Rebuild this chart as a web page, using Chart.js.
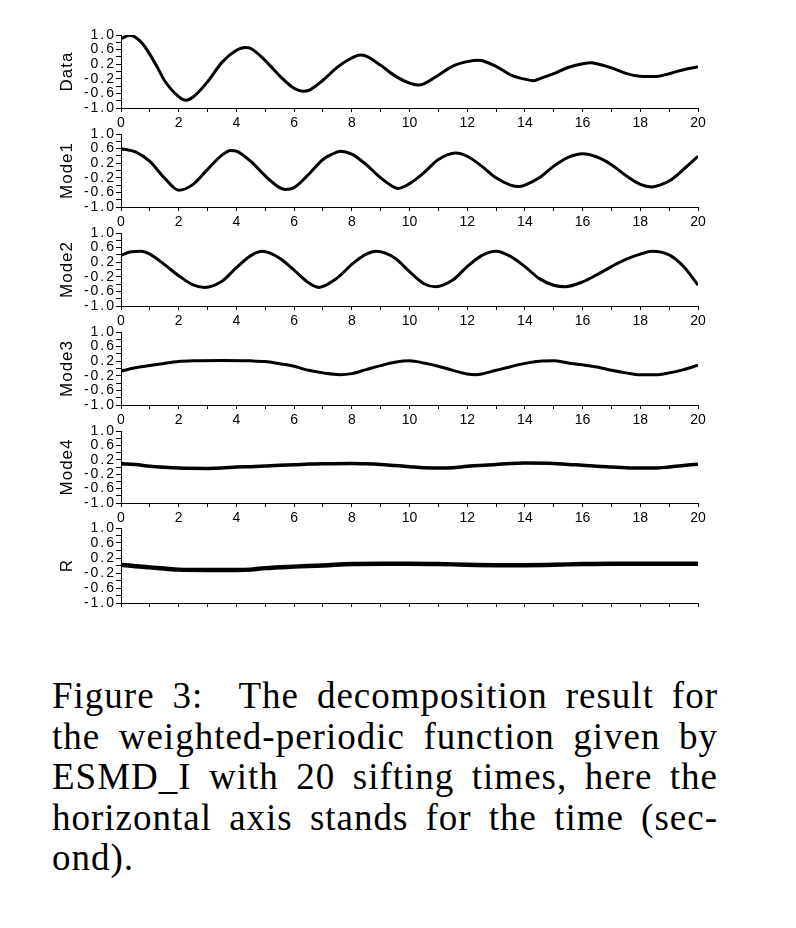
<!DOCTYPE html>
<html><head><meta charset="utf-8">
<script src="https://cdn.jsdelivr.net/npm/chart.js@4.4.1/dist/chart.umd.min.js"></script>
<style>
html,body{margin:0;padding:0;background:#fff;}
body{width:796px;height:928px;position:relative;overflow:hidden;}
.panel{position:absolute;left:0;}
#caption{position:absolute;left:52px;top:676px;width:666px;font-family:'Liberation Serif',serif;font-size:37px;line-height:40.5px;letter-spacing:1px;color:#000;}
#caption div{text-align:justify;text-align-last:justify;}
#caption div.last{text-align-last:left;}
</style></head>
<body>
<div id="caption">
<div>Figure 3:&nbsp; The decomposition result for</div>
<div>the weighted-periodic function given by</div>
<div>ESMD_I with 20 sifting times, here the</div>
<div>horizontal axis stands for the time (sec-</div>
<div class="last">ond).</div>
</div>
<script>
// ---- data ----
const panelNames = ['Data', 'Mode1', 'Mode2', 'Mode3', 'Mode4', 'R'];
const yTickValues = [-1.0, -0.6, -0.2, 0.2, 0.6, 1.0];
const xTickLabels = [0, 2, 4, 6, 8, 10, 12, 14, 16, 18, 20];

const dataT = [0,0.3,0.5,0.75,1,1.25,1.5,2,2.25,2.5,3,3.5,4,4.3,4.5,5,5.5,6,6.3,6.5,7,7.5,8,8.3,8.5,9,9.5,10,10.3,10.5,11,11.5,12,12.4,12.5,13,13.5,14,14.3,14.5,15,15.5,16,16.3,16.5,17,17.5,18,18.5,19,19.5,20];
const dataV = [0.90,0.99,0.94,0.76,0.47,0.13,-0.24,-0.69,-0.79,-0.70,-0.28,0.25,0.58,0.66,0.63,0.30,-0.12,-0.46,-0.54,-0.52,-0.24,0.12,0.37,0.45,0.42,0.17,-0.12,-0.32,-0.37,-0.34,-0.10,0.15,0.27,0.31,0.30,0.14,-0.09,-0.21,-0.25,-0.20,-0.06,0.11,0.21,0.24,0.21,0.10,-0.05,-0.13,-0.14,-0.06,0.05,0.13];

const mode1T = [0,0.5,1,1.5,2,2.5,3,3.5,3.8,4,4.5,5,5.5,5.7,6,6.5,7,7.5,7.6,8,8.5,9,9.5,9.6,10,10.5,11,11.6,12,12.5,13,13.5,13.8,14,14.5,15,15.5,16,16.5,17,17.5,18,18.4,18.5,19,19.5,20];
const mode1V = [0.60,0.51,0.25,-0.20,-0.54,-0.38,0.03,0.42,0.55,0.53,0.25,-0.15,-0.47,-0.52,-0.47,-0.11,0.30,0.51,0.53,0.45,0.16,-0.20,-0.47,-0.49,-0.36,-0.06,0.30,0.48,0.39,0.12,-0.20,-0.40,-0.44,-0.40,-0.20,0.12,0.36,0.46,0.37,0.16,-0.14,-0.38,-0.45,-0.44,-0.29,0.03,0.39];

const mode2T = [0,0.3,0.7,1,1.5,2,2.5,2.9,3.5,4,4.5,4.9,5.5,6,6.5,6.85,7.5,8,8.5,8.85,9.5,10,10.5,10.9,11.5,12,12.5,13,13.5,14,14.5,15,15.4,16,16.5,17,17.5,18,18.4,19,19.5,20];
const mode2V = [0.38,0.48,0.50,0.42,0.14,-0.17,-0.42,-0.49,-0.32,0.05,0.38,0.50,0.31,-0.02,-0.36,-0.49,-0.23,0.14,0.42,0.50,0.31,-0.06,-0.39,-0.47,-0.29,0.08,0.38,0.50,0.36,0.08,-0.25,-0.43,-0.47,-0.34,-0.14,0.08,0.28,0.42,0.50,0.40,0.08,-0.43];

const mode3T = [0,0.5,1,1.5,2,2.5,3.5,4.5,5,5.5,6,6.5,7,7.6,8,8.5,9,9.5,10,10.5,11,11.5,12,12.3,12.5,13,13.5,14,14.5,15,15.5,16,16.5,17,17.5,18,18.5,19,19.5,20];
const mode3V = [-0.07,0.02,0.08,0.14,0.19,0.21,0.22,0.21,0.19,0.13,0.06,-0.05,-0.12,-0.17,-0.14,-0.03,0.08,0.17,0.21,0.15,0.06,-0.05,-0.15,-0.17,-0.15,-0.05,0.05,0.14,0.20,0.21,0.15,0.10,0.04,-0.05,-0.12,-0.17,-0.17,-0.12,-0.03,0.09];

const mode4T = [0,0.5,1,1.5,2,3,3.5,4,4.5,5,5.5,6,6.5,7,8,8.5,9,9.5,10,10.5,11,11.5,12,13,13.5,14,15,15.5,16,16.5,17,17.5,18,18.5,19,19.5,20];
const mode4V = [0.09,0.07,0.02,-0.01,-0.03,-0.04,-0.03,0.00,0.01,0.03,0.05,0.06,0.08,0.09,0.10,0.09,0.07,0.04,0.01,-0.02,-0.03,-0.02,0.02,0.07,0.10,0.11,0.10,0.07,0.05,0.02,0.00,-0.02,-0.03,-0.03,0.00,0.04,0.08];

const rT = [0,0.5,1,1.5,2,3,4,4.5,5,6,7,8,9,10,11,12,13,14,15,16,17,18,19,20];
const rV = [0.02,-0.02,-0.05,-0.08,-0.11,-0.12,-0.12,-0.11,-0.07,-0.03,0.00,0.04,0.05,0.05,0.04,0.02,0.01,0.01,0.02,0.04,0.05,0.05,0.05,0.05];

const seriesT = [dataT, mode1T, mode2T, mode3T, mode4T, rT];
const seriesV = [dataV, mode1V, mode2V, mode3V, mode4V, rV];

// ---- layout ----
const panelTops = [35, 134, 233, 332, 431, 528];
const panelHeights = [73, 73, 73, 73, 72, 75];
const lineWidths = [3, 3, 3, 3, 3.5, 4.5];
const PAD_TOP = 10, X_AXIS_H = 26, Y_AXIS_W = 121, PAD_RIGHT = 98;

const spacingPlugin = {
  id: 'spacing',
  afterUpdate(chart) {
    const y = chart.scales.y;
    if (y && !y._wrapped) {
      const dl = y.drawLabels, dt = y.drawTitle;
      y.drawLabels = function (a) { this.ctx.save(); this.ctx.letterSpacing = '2px'; dl.call(this, a); this.ctx.restore(); };
      y.drawTitle = function (a) { this.ctx.save(); this.ctx.letterSpacing = '1px'; dt.call(this, a); this.ctx.restore(); };
      y._wrapped = true;
    }
  }
};

panelNames.forEach((name, i) => {
  const wrap = document.createElement('div');
  wrap.className = 'panel';
  const h = PAD_TOP + panelHeights[i] + X_AXIS_H;
  wrap.style.top = (panelTops[i] - PAD_TOP) + 'px';
  wrap.style.width = '796px';
  wrap.style.height = h + 'px';
  const cv = document.createElement('canvas');
  cv.width = 796; cv.height = h;
  cv.style.width = '796px'; cv.style.height = h + 'px';
  wrap.appendChild(cv);
  document.body.appendChild(wrap);
  const showX = i < panelNames.length - 1;
  const pts = seriesT[i].map((t, k) => ({ x: t, y: seriesV[i][k] }));
  new Chart(cv, {
    type: 'line',
    data: { datasets: [{ data: pts, borderColor: '#000', borderWidth: lineWidths[i], pointRadius: 0, fill: false, cubicInterpolationMode: 'monotone' }] },
    plugins: [spacingPlugin],
    options: {
      responsive: false, animation: false, devicePixelRatio: 1,
      layout: { padding: { top: PAD_TOP, right: PAD_RIGHT, left: 0, bottom: 0 } },
      plugins: { legend: { display: false }, tooltip: { enabled: false } },
      scales: {
        x: {
          type: 'linear', min: 0, max: 20,
          afterFit: s => { s.height = X_AXIS_H; },
          ticks: {
            stepSize: 1, autoSkip: false, maxRotation: 0, minRotation: 0, padding: 3, color: '#000',
            font: { family: 'Liberation Sans', size: 14 },
            callback: v => (showX && xTickLabels.includes(v)) ? String(v) : ''
          },
          grid: { drawOnChartArea: false, drawTicks: true, tickLength: 4, color: '#000', lineWidth: 1 },
          border: { display: true, color: '#000', width: 1 }
        },
        y: {
          min: -1, max: 1,
          afterFit: s => { s.width = Y_AXIS_W; },
          ticks: {
            stepSize: 0.2, autoSkip: false, padding: 0, color: '#000',
            font: { family: 'Liberation Sans', size: 14 },
            callback: v => yTickValues.some(t => Math.abs(t - v) < 1e-6) ? v.toFixed(1) : ''
          },
          grid: { drawOnChartArea: false, drawTicks: true, tickLength: 5, color: '#000', lineWidth: 1 },
          border: { display: true, color: '#000', width: 1 },
          title: { display: true, text: name, color: '#000', font: { family: 'Liberation Sans', size: 17 }, padding: { top: 57, bottom: 0 } }
        }
      }
    }
  });
});
</script>
</body></html>
